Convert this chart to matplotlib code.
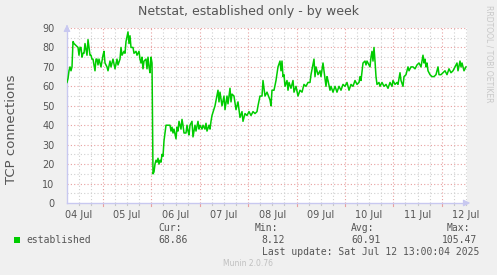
import numpy as np
import matplotlib
matplotlib.use("Agg")
import matplotlib.pyplot as plt
from matplotlib.patches import Rectangle

# 30-minute slots since the start of the graph (04 Jul ~06:09) and connection counts
slot = [0, 1, 2, 3, 4, 5, 6, 7, 9, 11, 12, 13, 14, 15, 16, 17, 18, 20, 21, 22,
        23, 24, 25, 26, 28, 29, 30, 31, 32, 34, 36, 37, 38, 40, 41, 43, 44, 46, 48, 50,
        51, 53, 54, 55, 57, 58, 59, 61, 62, 63, 64, 66, 67, 69, 70, 72, 73, 74, 75, 76,
        77, 79, 80, 81, 82, 83, 84, 85, 86, 87, 88, 89, 90, 91, 92, 93, 94, 95, 96, 97,
        99, 101, 103, 104, 105, 106, 107, 109, 110, 111, 112, 113, 114, 115, 116, 117, 119, 120, 121, 122,
        123, 125, 126, 128, 129, 131, 132, 133, 135, 136, 138, 139, 140, 142, 143, 144, 145, 148, 151, 152,
        153, 155, 157, 158, 160, 161, 163, 164, 165, 167, 169, 171, 173, 175, 176, 178, 180, 182, 184, 186,
        188, 190, 191, 193, 195, 196, 198, 200, 203, 204, 205, 207, 209, 211, 213, 214, 215, 216, 217, 218,
        220, 221, 222, 224, 226, 227, 229, 231, 233, 235, 237, 239, 241, 243, 244, 247, 248, 249, 251, 253,
        254, 256, 257, 259, 260, 261, 263, 264, 266, 268, 270, 272, 274, 276, 278, 280, 282, 284, 286, 288,
        290, 292, 293, 294, 296, 298, 299, 300, 301, 303, 304, 305, 306, 307, 308, 309, 310, 312, 313, 315,
        317, 319, 321, 323, 325, 326, 328, 330, 331, 333, 334, 336, 337, 339, 341, 342, 344, 346, 348, 350,
        352, 354, 356, 357, 358, 359, 360, 361, 363, 365, 367, 369, 371, 372, 374, 376, 378, 380, 382, 384,
        386, 388, 390, 391, 393, 394, 395, 397, 399]
established = [62, 64, 68, 70, 68, 70, 83, 82, 81, 80, 76, 80, 80, 75, 77, 77, 82, 76, 84, 80,
               76, 76, 74, 74, 68, 74, 74, 71, 74, 70, 76, 78, 72, 70, 68, 73, 70, 74, 69, 74,
               71, 74, 80, 76, 78, 77, 83, 88, 82, 86, 80, 80, 77, 78, 76, 78, 74, 72, 75, 69,
               73, 74, 69, 75, 70, 67, 75, 72, 15, 16, 20, 22, 21, 23, 20, 22, 21, 25, 24, 32,
               40, 40, 40, 37, 39, 36, 38, 33, 39, 37, 42, 40, 38, 43, 40, 36, 36, 40, 37, 35,
               40, 42, 34, 40, 37, 42, 38, 40, 38, 40, 38, 41, 37, 40, 38, 42, 45, 50, 58, 52,
               57, 50, 55, 48, 55, 51, 59, 52, 56, 55, 48, 52, 44, 47, 42, 46, 45, 47, 45, 47,
               46, 47, 50, 55, 55, 63, 55, 57, 53, 50, 58, 58, 63, 70, 73, 68, 73, 65, 66, 60,
               63, 58, 62, 59, 63, 57, 60, 55, 58, 57, 61, 60, 62, 62, 66, 74, 65, 70, 66, 68,
               65, 72, 68, 60, 65, 63, 58, 60, 57, 60, 57, 60, 58, 61, 60, 62, 58, 61, 60, 63,
               61, 62, 65, 63, 72, 73, 71, 73, 72, 70, 75, 78, 73, 80, 73, 65, 61, 62, 60, 62,
               60, 61, 59, 62, 60, 63, 61, 62, 61, 67, 63, 60, 65, 66, 70, 68, 70, 70, 69, 71,
               72, 70, 76, 72, 74, 70, 72, 68, 66, 65, 65, 66, 70, 66, 66, 67, 68, 66, 69, 67,
               68, 70, 72, 68, 73, 70, 72, 68, 70]
day_labels = ["04 Jul", "05 Jul", "06 Jul", "07 Jul", "08 Jul", "09 Jul", "10 Jul", "11 Jul", "12 Jul"]
stats = [("Cur:", "68.86"), ("Min:", "8.12"), ("Avg:", "60.91"), ("Max:", "105.47")]

T0 = 6.15       # hours after 04 Jul 00:00
STEP_H = 0.496  # hours per slot
hours = T0 + np.array(slot) * STEP_H
x_end = T0 + 400 * STEP_H

BG = "#f0f0f0"
TXT = "#555555"
W, H = 497, 275

fig = plt.figure(figsize=(W / 100, H / 100), dpi=100, facecolor=BG)
ax = fig.add_axes([67 / W, 1 - 203 / H, 400 / W, 175 / H])
ax.set_facecolor("white")

# grid: minor every 6h / 5 units (gray), major every day / 10 units (red)
for h in np.arange(0, x_end, 6):
    if h > T0:
        major = (h % 24 == 0)
        ax.axvline(h, color="#e8a0a0" if major else "#d0d0d0", lw=0.8,
                   ls=(0, (1, 2)), zorder=1)
        # small tick marks below the axis
        ax.plot([h, h], [-1.4 if major else -0.8, 0], color="#e8a0a0" if major else "#c8c8c8",
                lw=0.8, clip_on=False, zorder=1)
for v in range(5, 91, 5):
    major = (v % 10 == 0)
    ax.axhline(v, color="#e8a0a0" if major else "#d0d0d0", lw=0.8,
               ls=(0, (1, 2)), zorder=1)

ax.plot(hours, established, color="#00cc00", lw=1.1, zorder=3)

ax.set_xlim(T0, x_end)
ax.set_ylim(0, 90)
ax.set_yticks(range(0, 91, 10))
ax.set_xticks([12 + 24 * i for i in range(len(day_labels))])
ax.set_xticklabels(day_labels)
ax.tick_params(axis="both", length=0, labelsize=7, colors=TXT)
ax.tick_params(axis="x", pad=5)
ax.tick_params(axis="y", pad=9)
for s in ("top", "right"):
    ax.spines[s].set_visible(False)
for s in ("left", "bottom"):
    ax.spines[s].set_color("#c8c8f0")
    ax.spines[s].set_linewidth(1.0)
ax.annotate("", xy=(1.015, 0), xytext=(0.99, 0), xycoords="axes fraction",
            arrowprops=dict(arrowstyle="-|>", color="#c8c8f0", lw=0.8), annotation_clip=False)
ax.annotate("", xy=(0, 1.035), xytext=(0, 0.99), xycoords="axes fraction",
            arrowprops=dict(arrowstyle="-|>", color="#c8c8f0", lw=0.8), annotation_clip=False)

def fx(px):
    return px / W

def fy(py):
    return 1 - py / H

fig.text(fx(249), fy(11), "Netstat, established only - by week", ha="center", va="center",
         fontsize=9, color=TXT)
fig.text(fx(12), fy(129), "TCP connections", ha="center", va="center", rotation=90,
         fontsize=9.5, color=TXT)
fig.text(fx(489), fy(5), "RRDTOOL / TOBI OETIKER", ha="center", va="top", rotation=-90,
         fontsize=5.5, color="#c8c8c8")

fig.patches.append(Rectangle((fx(14), fy(243)), 6 / W, 6 / H, transform=fig.transFigure,
                             facecolor="#00cc00", edgecolor="none"))
mono = dict(family="DejaVu Sans Mono", fontsize=7, color=TXT, va="center")
fig.text(fx(26), fy(240), "established", **mono)
head_x = [158, 255, 351, 447]
val_x = [158, 261, 351, 442]
for (head, val), hx, vx in zip(stats, head_x, val_x):
    fig.text(fx(hx), fy(228), head, **mono)
    fig.text(fx(vx), fy(240), val, **mono)
fig.text(fx(262), fy(252), "Last update: Sat Jul 12 13:00:04 2025", **mono)
fig.text(fx(248), fy(264), "Munin 2.0.76", ha="center", va="center", fontsize=5.5,
         color="#c0c0c0")

fig.savefig("out.png", dpi=100, facecolor=BG)
